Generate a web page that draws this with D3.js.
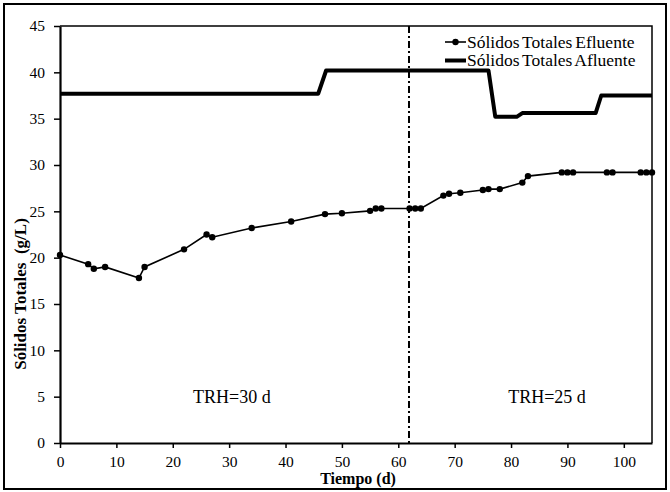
<!DOCTYPE html>
<html>
<head>
<meta charset="utf-8">
<script src="https://cdn.jsdelivr.net/npm/d3@7"></script>
<style>
  body { margin: 0; background: #fff; }
  svg text { font-family: "Liberation Serif", "Times New Roman", serif; fill: #000; }
</style>
</head>
<body>
<svg id="chart" width="670" height="492"></svg>
<script>
// effluent total solids (day, g/L)
const effDays = [0, 5, 6, 8, 14, 15, 22, 26, 27, 34, 41, 47, 50, 55, 56, 57, 62, 63, 64,
  68, 69, 71, 75, 76, 78, 82, 83, 89, 90, 91, 97, 98, 103, 104, 105];
const effValues = [20.3, 19.3, 18.8, 19.0, 17.8, 19.0, 20.9, 22.5, 22.2, 23.2, 23.9, 24.7, 24.8, 25.05, 25.3, 25.3, 25.3, 25.3, 25.3,
  26.7, 26.9, 27.0, 27.3, 27.4, 27.4, 28.1, 28.8, 29.2, 29.2, 29.2, 29.2, 29.2, 29.2, 29.2, 29.2];

// influent total solids (step changes)
const affDays = [0, 45.8, 47.2, 76, 77.2, 81, 82, 95, 96, 105];
const affValues = [37.7, 37.7, 40.2, 40.2, 35.2, 35.2, 35.6, 35.6, 37.5, 37.5];

const xTicks = [0, 10, 20, 30, 40, 50, 60, 70, 80, 90, 100];
const yTicks = [0, 5, 10, 15, 20, 25, 30, 35, 40, 45];
const changeDay = 61.9;
const legendLabels = ["Sólidos Totales Efluente", "Sólidos Totales Afluente"];

const serif = "'Liberation Serif', 'Times New Roman', serif";
const svg = d3.select("#chart");
const margin = { left: 60, right: 18, top: 26, bottom: 49 };
const width = 670, height = 492;

const x = d3.scaleLinear().domain([0, 105]).range([margin.left, width - margin.right]);
const y = d3.scaleLinear().domain([0, 45]).range([height - margin.bottom, margin.top]);

// outer frame
svg.append("rect")
  .attr("x", 4).attr("y", 4)
  .attr("width", 662).attr("height", 485)
  .attr("fill", "none").attr("stroke", "#000").attr("stroke-width", 2);

// plot box (top and right edges)
svg.append("path")
  .attr("d", `M${x(0)},${y(45)}H${x(105)}V${y(0)}`)
  .attr("fill", "none").attr("stroke", "#000").attr("stroke-width", 1.5);

// axes
const xAxis = svg.append("g")
  .attr("transform", `translate(0,${y(0)})`)
  .call(d3.axisBottom(x).tickValues(xTicks).tickSizeInner(5).tickSizeOuter(0).tickPadding(8));
const yAxis = svg.append("g")
  .attr("transform", `translate(${x(0)},0)`)
  .call(d3.axisLeft(y).tickValues(yTicks).tickSizeInner(6).tickSizeOuter(0).tickPadding(9));

[xAxis, yAxis].forEach((g) => {
  g.attr("font-family", null);
  g.select(".domain").attr("stroke", "#000").attr("stroke-width", 2.2);
  g.selectAll(".tick line").attr("stroke", "#000").attr("stroke-width", 1.5);
  g.selectAll(".tick text")
    .style("font-family", serif)
    .style("font-size", "15.5px")
    .attr("fill", "#000");
});

// axis titles
svg.append("text")
  .attr("x", (x(0) + x(105)) / 2 + 2)
  .attr("y", 484)
  .attr("text-anchor", "middle")
  .style("font-family", serif)
  .style("font-size", "16px")
  .style("font-weight", "bold")
  .text("Tiempo (d)");

svg.append("text")
  .attr("transform", "translate(26,294) rotate(-90)")
  .attr("text-anchor", "middle")
  .style("font-family", serif)
  .style("font-size", "17px")
  .style("font-weight", "bold")
  .style("white-space", "pre")
  .text("Sólidos Totales  (g/L)");

// HRT change marker
svg.append("line")
  .attr("x1", x(changeDay)).attr("x2", x(changeDay))
  .attr("y1", y(45)).attr("y2", y(0))
  .attr("stroke", "#000").attr("stroke-width", 2)
  .attr("stroke-dasharray", "7,3,2,3");

svg.append("text")
  .attr("x", x(23.6)).attr("y", y(4.3))
  .style("font-family", serif)
  .style("font-size", "18px")
  .text("TRH=30 d");
svg.append("text")
  .attr("x", x(79.5)).attr("y", y(4.3))
  .style("font-family", serif)
  .style("font-size", "18px")
  .text("TRH=25 d");

// influent line
const affData = affDays.map((d, i) => ({ day: d, value: affValues[i] }));
svg.append("path")
  .datum(affData)
  .attr("fill", "none")
  .attr("stroke", "#000")
  .attr("stroke-width", 4)
  .attr("stroke-linejoin", "round")
  .attr("d", d3.line().x((d) => x(d.day)).y((d) => y(d.value)));

// effluent line + markers
const effData = effDays.map((d, i) => ({ day: d, value: effValues[i] }));
svg.append("path")
  .datum(effData)
  .attr("fill", "none")
  .attr("stroke", "#000")
  .attr("stroke-width", 1.6)
  .attr("d", d3.line().x((d) => x(d.day)).y((d) => y(d.value)));

svg.selectAll("circle.eff")
  .data(effData)
  .enter()
  .append("circle")
  .attr("class", "eff")
  .attr("cx", (d) => x(d.day))
  .attr("cy", (d) => y(d.value))
  .attr("r", 3.2)
  .attr("fill", "#000");

// legend
const legend = svg.append("g").attr("transform", "translate(445,42)");
legendLabels.forEach((label, i) => {
  const row = legend.append("g").attr("transform", `translate(0,${i * 18.5})`);
  row.append("line")
    .attr("x1", 0).attr("x2", 21)
    .attr("stroke", "#000")
    .attr("stroke-width", i === 0 ? 1.6 : 4);
  if (i === 0) {
    row.append("circle").attr("cx", 10.5).attr("r", 3.2).attr("fill", "#000");
  }
  row.append("text")
    .attr("x", 22)
    .attr("y", 5.5)
    .style("font-family", serif)
    .style("font-size", "17.5px")
    .style("word-spacing", "-1.5px")
    .text(label);
});
</script>
</body>
</html>
